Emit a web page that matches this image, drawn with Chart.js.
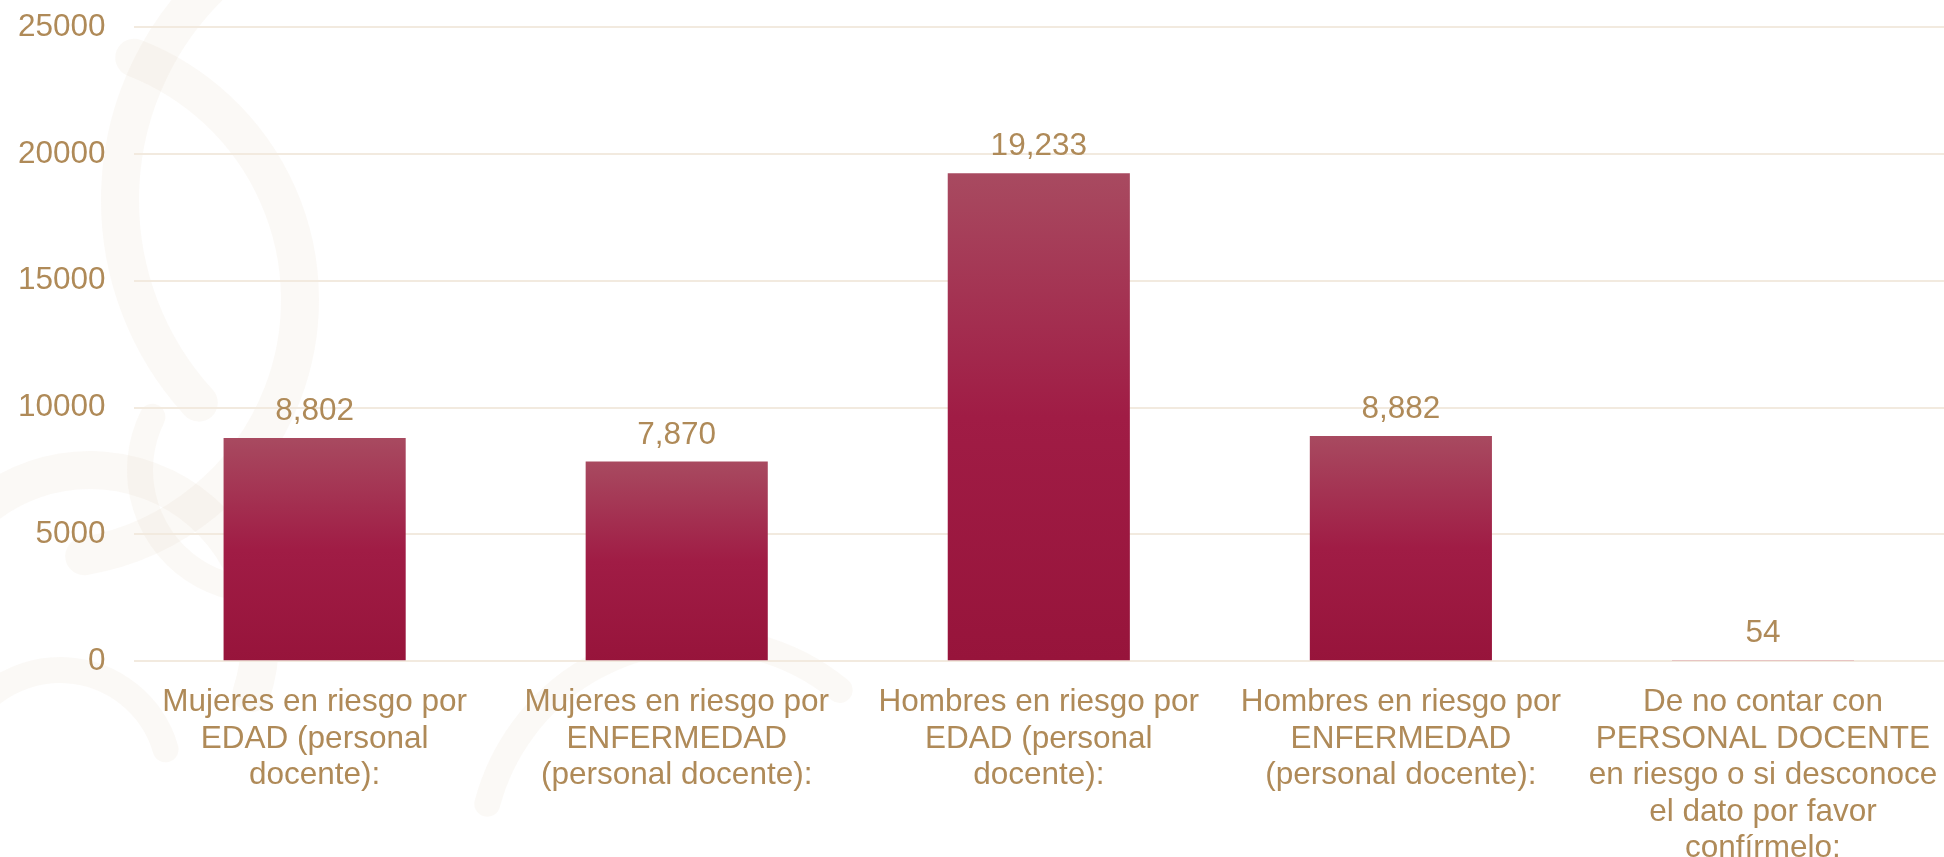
<!DOCTYPE html>
<html>
<head>
<meta charset="utf-8">
<script src="https://cdn.jsdelivr.net/npm/chart.js@4/dist/chart.umd.min.js"></script>
<style>
  html, body { margin:0; padding:0; background:#fff; }
  #wrap { width:1944px; height:857px; }
</style>
</head>
<body>
<div id="wrap"><canvas id="chartRiesgo" width="1944" height="857"></canvas></div>
<script>
// ── data ────────────────────────────────────────────────────────────────────
const categories = [
  ['Mujeres en riesgo por', 'EDAD (personal', 'docente):'],
  ['Mujeres en riesgo por', 'ENFERMEDAD', '(personal docente):'],
  ['Hombres en riesgo por', 'EDAD (personal', 'docente):'],
  ['Hombres en riesgo por', 'ENFERMEDAD', '(personal docente):'],
  ['De no contar con', 'PERSONAL DOCENTE', 'en riesgo o si desconoce', 'el dato por favor', 'confírmelo:']
];
const values = [8802, 7870, 19233, 8882, 54];
const yMax = 25000;
const yStep = 5000;

const GOLD = '#AF8A58';
const GRID = '#F2EADF';
const FONT = { family:'"Liberation Sans", Arial, sans-serif', size:31.5 };

// per-bar vertical gradient, light wine on top -> deep wine at the base
function barGradient(ctx) {
  const chart = ctx.chart;
  const y = chart.scales.y;
  if (!chart.chartArea || !y || ctx.dataIndex == null) return '#A01C45';
  const top = y.getPixelForValue(values[ctx.dataIndex]);
  const bottom = y.getPixelForValue(0);
  if (bottom - top < 4) return '#C85A70';
  const g = chart.ctx.createLinearGradient(0, top, 0, bottom);
  g.addColorStop(0, '#A84A60');
  g.addColorStop(0.5, '#A01C45');
  g.addColorStop(1, '#97143B');
  return g;
}

// faint watermark-ish backdrop
const backdrop = {
  id: 'backdrop',
  beforeDraw(chart) {
    const c = chart.ctx;
    c.save();
    c.fillStyle = '#fff';
    c.fillRect(0, 0, chart.width, chart.height);
    c.strokeStyle = 'rgba(226,212,188,0.13)';
    c.lineCap = 'round';
    c.lineWidth = 38;
    c.beginPath(); c.arc(40, 300, 260, -1.2, 1.4); c.stroke();
    c.beginPath(); c.arc(90, 640, 170, 3.6, 6.6); c.stroke();
    c.beginPath(); c.arc(420, 200, 300, 2.4, 4.2); c.stroke();
    c.lineWidth = 26;
    c.beginPath(); c.arc(60, 780, 110, 3.2, 6.0); c.stroke();
    c.beginPath(); c.arc(700, 860, 220, 3.4, 5.4); c.stroke();
    c.beginPath(); c.arc(260, 470, 120, 0.5, 3.6); c.stroke();
    c.restore();
  }
};

// value labels above bars
const valueLabels = {
  id: 'valueLabels',
  afterDatasetsDraw(chart) {
    const c = chart.ctx;
    const meta = chart.getDatasetMeta(0);
    c.save();
    c.font = `${FONT.size}px ${FONT.family}`;
    c.fillStyle = GOLD;
    c.textAlign = 'center';
    c.textBaseline = 'alphabetic';
    meta.data.forEach((bar, i) => {
      c.fillText(values[i].toLocaleString('en-US'), bar.x, bar.y - 18);
    });
    c.restore();
  }
};

new Chart(document.getElementById('chartRiesgo'), {
  type: 'bar',
  data: {
    labels: categories,
    datasets: [{
      data: values,
      backgroundColor: barGradient,
      borderWidth: 0,
      categoryPercentage: 1,
      barPercentage: 0.503
    }]
  },
  options: {
    responsive: false,
    animation: false,
    devicePixelRatio: 1,
    layout: { padding: { left:-10, top:0, right:0, bottom:-33 } },
    plugins: { legend:{display:false}, tooltip:{enabled:false} },
    scales: {
      x: {
        grid: { display:false, drawTicks:false },
        border: { display:false },
        ticks: { color:GOLD, font:{...FONT, lineHeight:1.16}, padding:23,
                 maxRotation:0, minRotation:0, autoSkip:false },
        // let the plot run to the right edge like the original
        afterFit: s => { s.paddingLeft = 0; s.paddingRight = 0; }
      },
      y: {
        min: 0, max: yMax,
        grid: { color:GRID, lineWidth:2, drawTicks:false },
        border: { display:false },
        ticks: { stepSize:yStep, color:GOLD, font:FONT, padding:28,
                 callback: v => String(v) },
        // tick padding otherwise pushes the plot down from the top edge
        afterFit: s => { s.paddingTop = 27; s.paddingBottom = 19; }
      }
    }
  },
  plugins: [backdrop, valueLabels]
});
</script>
</body>
</html>
